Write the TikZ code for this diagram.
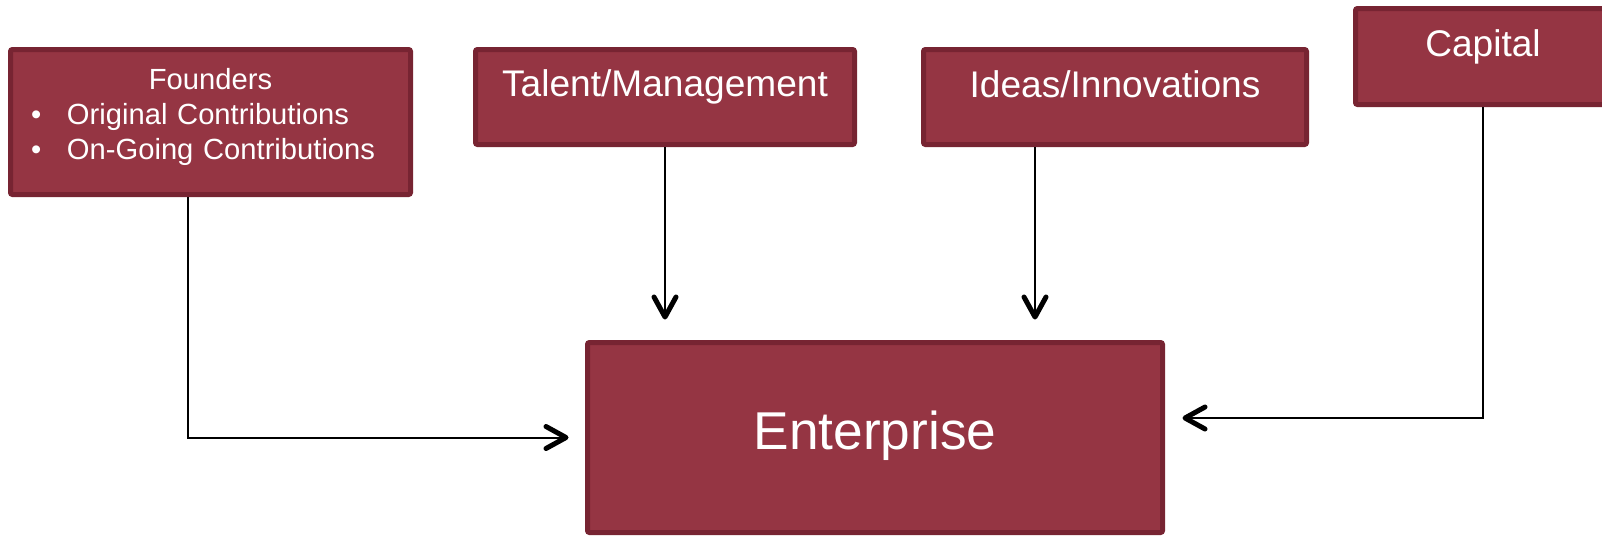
\documentclass[tikz,border=0pt]{standalone}
\usepackage{fontspec}
\setmainfont{Liberation Sans}
\usetikzlibrary{arrows.meta}
\definecolor{boxfill}{RGB}{149,53,67}
\definecolor{boxline}{RGB}{119,36,50}
\begin{document}
\begin{tikzpicture}[% ------ Les apports de l'entreprise -----------------
    bloc/.style={draw=boxline, fill=boxfill, line width=0.1cm, rounded corners=0.04cm,
      text=white, inner sep=0pt, font=\fontsize{21.1pt}{25pt}\selectfont},
    fleche/.style={line width=0.04cm, -{Straight Barb[length=0.4cm,width=0.44cm,line width=0.1cm,round]}}]
    \useasboundingbox (0,0) rectangle (32.04,-10.7);
    \node [bloc, text width=7.18cm, inner xsep=0.41cm, align=left, text height=0.8cm, text depth=2.1cm,
      font=\fontsize{16.6pt}{19.9pt}\selectfont] (founders) at (4.21,-2.44)
      {\makebox[\linewidth]{Founders}\\ \makebox[0.72cm][l]{\textbullet}Original Contributions\\ \makebox[0.72cm][l]{\textbullet}On-Going Contributions};
    \node [bloc, minimum width=7.58cm, text height=0.94cm, text depth=0.96cm] (talent) at (13.30,-1.94) {Talent/Management};
    \node [bloc, minimum width=7.66cm, text height=0.95cm, text depth=0.95cm] (ideas) at (22.30,-1.94) {Ideas/Innovations};
    \node [bloc, minimum width=5.10cm, text height=0.96cm, text depth=0.96cm] (capital) at (29.66,-1.13) {Capital};
    \node [bloc, minimum width=11.5cm, text height=2.13cm, text depth=1.67cm,
      font=\fontsize{30.3pt}{36pt}\selectfont] (ent) at (17.5,-8.75) {Enterprise};
    \coordinate (foundersout) at ([xshift=-0.45cm]founders.south);
    \coordinate (ideasout) at ([xshift=-1.6cm]ideas.south);
    \coordinate (capin) at ([yshift=0.39cm]ent.east);
    \draw [fleche, shorten >=0.33cm] (foundersout) |- (ent.west);
    \draw [fleche, shorten >=0.41cm] (talent) -- (talent |- ent.north);
    \draw [fleche, shorten >=0.41cm] (ideasout) -- (ideasout |- ent.north);
    \draw [fleche, shorten >=0.35cm] (capital) |- (capin);
\end{tikzpicture}
\end{document}
